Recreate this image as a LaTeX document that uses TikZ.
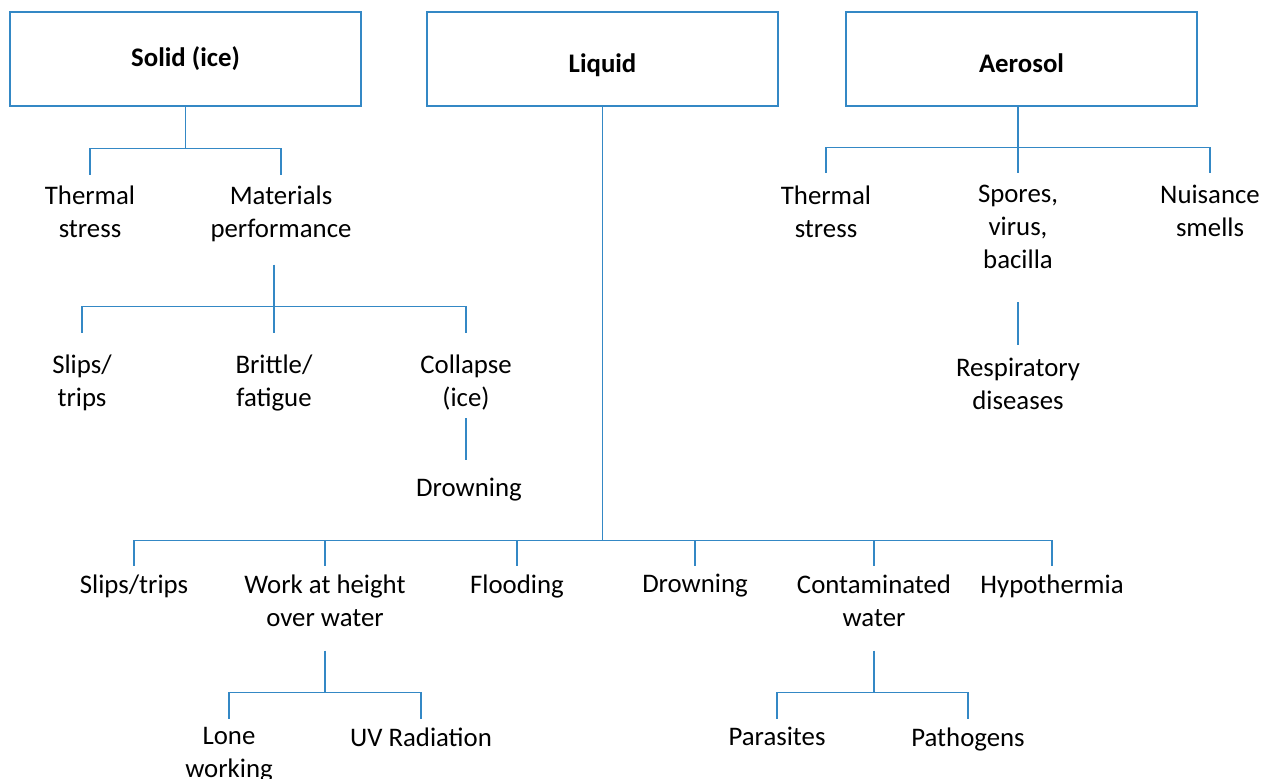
\documentclass[tikz,border=0pt]{standalone}
\usepackage{fontspec}
\setmainfont{Carlito}
\definecolor{linkblue}{RGB}{52,136,197}
\newcommand{\labelsize}{\fontsize{13.4}{16.5}\selectfont}
\tikzset{cat/.style = {draw=linkblue, line width=0.6pt, minimum width=175.5pt, minimum height=47pt, inner sep=0pt, font=\labelsize\bfseries}}

\begin{document}
\begin{tikzpicture}[x=0.5pt, y=-0.5pt]
    % Define node styles
    \tikzstyle{hazard} = [align=center, inner sep=0pt, anchor=north, font=\labelsize]
    \tikzstyle{link} = [draw=linkblue, line width=0.6pt]

    \useasboundingbox (0,0) rectangle (1274,778);

    % Category boxes (top row)
    \node[cat] (solid) at (185.5,59) {Solid (ice)};
    \node[cat] (liquid) at (602.5,59) {\raisebox{-3pt}[\height][\depth]{Liquid}};
    \node[cat] (aerosol) at (1021.5,59) {\raisebox{-2pt}[\height][\depth]{Aerosol}};

    % Solid (ice) hazards
    \node[hazard] (ts1) at (90,185) {Thermal\\stress};
    \node[hazard] (mp) at (281,185) {Materials\\performance};
    \node[hazard] (st1) at (82,354) {Slips/\\trips};
    \node[hazard] (bf) at (274,354) {Brittle/\\fatigue};
    \node[hazard] (col) at (466,354) {Collapse\\(ice)};
    \node[hazard] (dr1) at (469,478) {Drowning};

    % Liquid hazards
    \node[hazard] (sl2) at (134,574) {Slips/trips};
    \node[hazard] (wh) at (325,574) {Work at height\\over water};
    \node[hazard] (fl) at (517,574) {Flooding};
    \node[hazard] (dr2) at (695,574) {Drowning};
    \node[hazard] (cw) at (874,574) {Contaminated\\water};
    \node[hazard] (hy) at (1052,574) {Hypothermia};
    \node[hazard] (lw) at (229,727) {Lone\\working};
    \node[hazard] (uv) at (421,727) {UV Radiation};
    \node[hazard] (par) at (777,727) {Parasites};
    \node[hazard] (pat) at (968,727) {Pathogens};

    % Aerosol hazards
    \node[hazard] (ts2) at (826,185) {Thermal\\stress};
    \node[hazard] (sp) at (1018,185) {Spores,\\virus,\\bacilla};
    \node[hazard] (ns) at (1210,185) {Nuisance\\smells};
    \node[hazard] (rd) at (1018,358) {Respiratory\\diseases};

    % Solid (ice) tree
    \draw[link] (solid.south) -- ++(0,42);
    \foreach \c in {ts1,mp} \draw[link] (solid.south) ++(0,42) -| ([yshift=5pt]\c.north);
    \draw[link] (bf.north |- mp.south) ++(0,23) -- ++(0,42);
    \foreach \c in {st1,bf,col} \draw[link] (bf.north |- mp.south) ++(0,65) -| ([yshift=10.5pt]\c.north);
    \draw[link] (col.south) ++(0,8) -- ([yshift=9pt]col.south |- dr1.north);

    % Liquid tree
    \draw[link] (liquid.south) -- ++(0,434);
    \foreach \c in {sl2,wh,fl,dr2,cw,hy} \draw[link] (liquid.south) ++(0,434) -| ([yshift=4pt]\c.north);
    \draw[link] (wh.south) ++(0,24) -- ++(0,42);
    \foreach \c in {lw,uv} \draw[link] (wh.south) ++(0,66) -| ([yshift=4pt]\c.north);
    \draw[link] (cw.south) ++(0,24) -- ++(0,42);
    \foreach \c in {par,pat} \draw[link] (cw.south) ++(0,66) -| ([yshift=4pt]\c.north);

    % Aerosol tree
    \draw[link] (sp.north |- aerosol.south) -- ++(0,41);
    \foreach \c in {ts2,sp,ns} \draw[link] (sp.north |- aerosol.south) ++(0,41) -| ([yshift=6pt]\c.north);
    \draw[link] (sp.south) ++(0,33) -- ([yshift=6.5pt]rd.north);

\end{tikzpicture}
\end{document}
